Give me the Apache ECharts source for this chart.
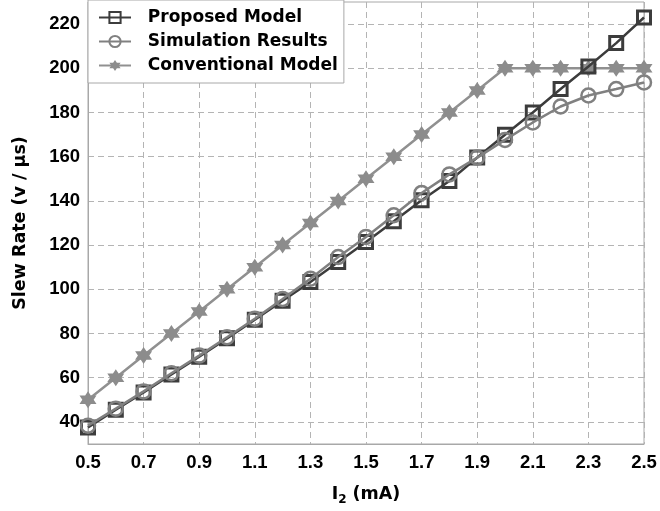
<!DOCTYPE html>
<html><head><meta charset="utf-8">
<script src="https://cdn.jsdelivr.net/npm/echarts@6/dist/echarts.min.js"></script>
<style>html,body{margin:0;padding:0;background:#fff}#c{width:660px;height:511px}</style>
</head><body><div id="c"></div>
<script>
const categories = ['0.5','0.6','0.7','0.8','0.9','1.0','1.1','1.2','1.3','1.4','1.5','1.6','1.7','1.8','1.9','2.0','2.1','2.2','2.3','2.4','2.5'];
const proposedModel = [37.5,45.5,53.3,61.5,69.5,77.8,86.2,94.8,103.3,112.4,121.4,130.8,140.3,149,159.6,169.9,180,190.6,200.8,211.4,223];
const simulationResults = [38.3,46,53.8,62,70,78.3,86.7,95.6,104.8,114.6,123.7,133.5,143.6,152,159.6,167.6,175.5,182.7,187.7,190.6,193.6];
const conventionalModel = [50,60,70,80,90,100,110,120,130,140,150,160,170,180,190,200,200,200,200,200,200];
const yTicks = [40,60,80,100,120,140,160,180,200,220];

const star = 'path://M0,-10 L2.887,-5 L8.66,-5 L5.774,0 L8.66,5 L2.887,5 L0,10 L-2.887,5 L-8.66,5 L-5.774,0 L-8.66,-5 L-2.887,-5 Z';
const font = 'Liberation Sans, Arial, sans-serif';
const wide = 'DejaVu Sans, sans-serif';
const clear = 'rgba(255,255,255,0)';
const chart = echarts.init(document.getElementById('c'), null, {renderer:'canvas'});
chart.setOption({
  animation:false,
  backgroundColor:'#fff',
  grid:{left:88,right:16,top:2,bottom:67,show:true,borderColor:'#a8a8a8',borderWidth:1,containLabel:false},
  legend:{
    orient:'vertical',left:88,top:0,
    padding:[9,6,9,10],itemGap:7,itemWidth:32,itemHeight:14,
    backgroundColor:'#fff',borderColor:'#a8a8a8',borderWidth:1,borderRadius:0,
    formatter:function(n){return '  '+n;},
    textStyle:{fontFamily:wide,fontSize:17,fontWeight:'bold',color:'#000'},
    data:['Proposed Model','Simulation Results','Conventional Model']
  },
  xAxis:{
    type:'category',data:categories,boundaryGap:false,
    name:'{a|I}{b|2}{a| (mA)}',nameLocation:'middle',nameGap:39,
    nameTextStyle:{rich:{
      a:{fontFamily:wide,fontSize:17.5,fontWeight:'bold',color:'#000'},
      b:{fontFamily:wide,fontSize:12,fontWeight:'bold',color:'#000',padding:[11,0,0,0]}
    }},
    axisLine:{lineStyle:{color:'#a8a8a8',width:1}},
    axisTick:{show:false},
    axisLabel:{interval:1,margin:9,fontFamily:font,fontSize:18.5,fontWeight:'bold',color:'#000'},
    splitLine:{show:true,interval:1,lineStyle:{color:'#b4b4b4',type:[6,4],width:1}}
  },
  yAxis:{
    type:'value',min:30,max:230,
    name:'Slew Rate (v / \u03bcs)',nameLocation:'middle',nameGap:59,
    nameTextStyle:{fontFamily:wide,fontSize:17.5,fontWeight:'bold',color:'#000'},
    axisLine:{show:true,lineStyle:{color:'#a8a8a8',width:1}},
    axisTick:{show:false,customValues:yTicks},
    axisLabel:{customValues:yTicks,margin:8,fontFamily:font,fontSize:18.5,fontWeight:'bold',color:'#000'},
    splitLine:{show:true,lineStyle:{color:'#b4b4b4',type:[6,4],width:1}}
  },
  series:[
    {name:'Proposed Model',type:'line',data:proposedModel,symbol:'rect',symbolSize:13,z:3,
     lineStyle:{color:'#3c3c3c',width:2.5},itemStyle:{color:clear,borderColor:'#3c3c3c',borderWidth:3}},
    {name:'Simulation Results',type:'line',data:simulationResults,symbol:'circle',symbolSize:14,z:4,
     lineStyle:{color:'#808080',width:2.5},itemStyle:{color:clear,borderColor:'#808080',borderWidth:2.5}},
    {name:'Conventional Model',type:'line',data:conventionalModel,symbol:star,symbolSize:17,z:2,
     lineStyle:{color:'#909090',width:2.5},itemStyle:{color:'#8c8c8c',borderColor:'#8c8c8c',borderWidth:0}}
  ]
});
</script></body></html>
